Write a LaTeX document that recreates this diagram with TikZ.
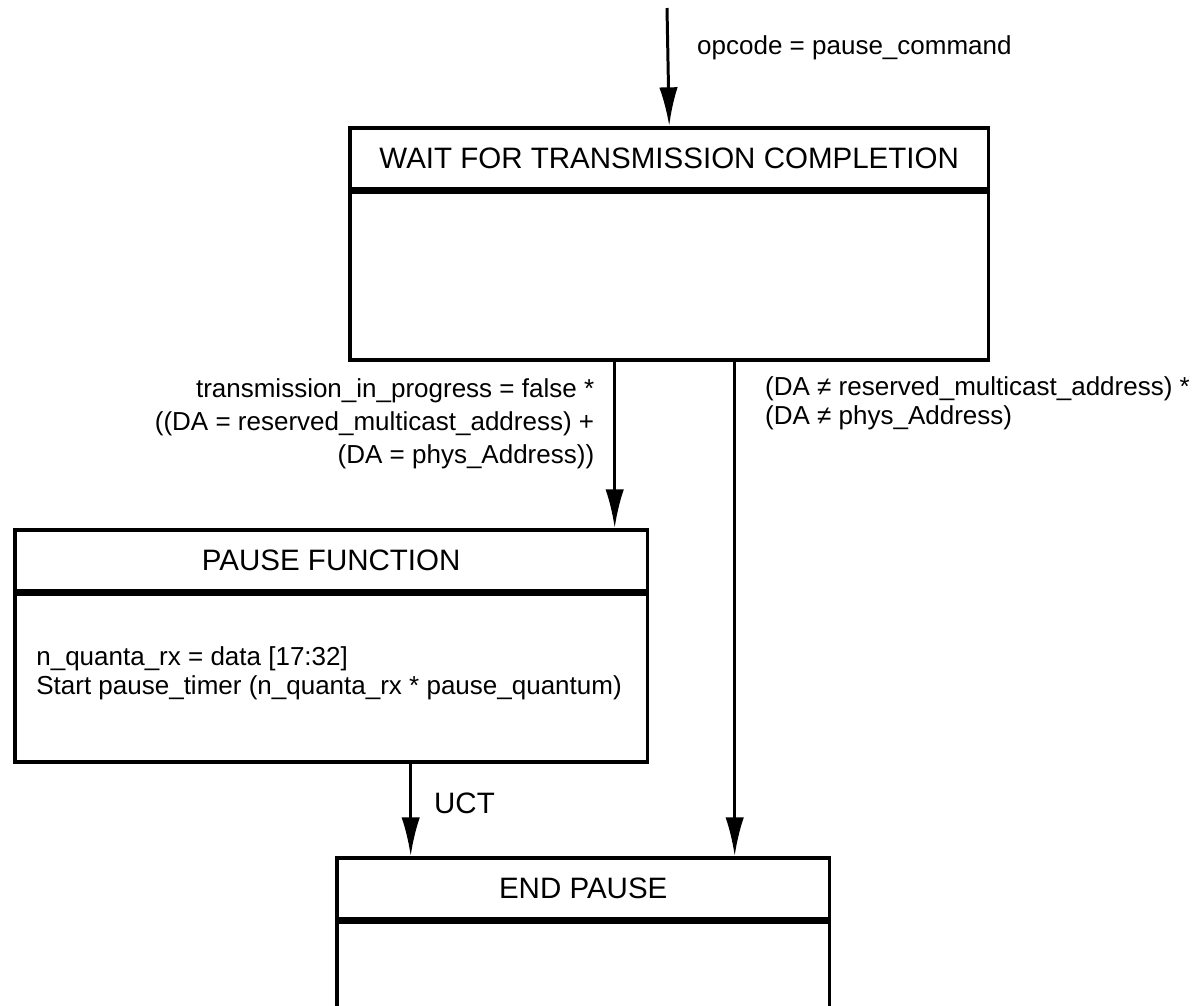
\documentclass[tikz,border=0pt]{standalone}
\usepackage{fontspec}
\setmainfont{Liberation Sans}
\usetikzlibrary{arrows.meta,positioning,calc}
\tikzset{% styles for the state boxes (title part and body part)
   statehd/.style={draw, line width=2pt, anchor=north west, inner sep=0mm,
                   minimum height=1.22cm, font=\fontsize{16.8}{20}\selectfont},
   statebody/.style={draw, line width=2pt, anchor=north, inner sep=0mm},
   % and the transitions with their conditions
   flow/.style={line width=1.7pt, -{Latex[length=22pt,width=10.5pt]}},
   guardlbl/.style={inner sep=0mm, font=\fontsize{14.8}{18.8}\selectfont}
}

\begin{document}
\begin{tikzpicture}[x=0.02cm, y=-0.02cm]
     \useasboundingbox (0,0) rectangle (1200,1005);
     \foreach \nm/\x/\y/\w/\bh/\title in {wait/348/126/12.78/3.36/{WAIT FOR TRANSMISSION COMPLETION},
                                        pause/13/528/12.66/3.36/{PAUSE FUNCTION},
                                        end/335/856/9.86/2.3/{END PAUSE}} {
         \node[statehd, minimum width=\w cm] (\nm hd) at (\x,\y) {\title};
         \node[statebody, minimum width=\w cm, minimum height=\bh cm] (\nm body) at (\nm hd.south) {};
     }
     \node[guardlbl, anchor=west, align=left, font=\fontsize{14.8}{17}\selectfont] (pausetxt)
          at ([xshift=0.46cm, yshift=0.1cm]pausebody.west)
          {n\_quanta\_rx = data [17:32]\\Start pause\_timer (n\_quanta\_rx * pause\_quantum)};

     \coordinate (entry) at (667,8);
     \coordinate (forkL) at ($(waitbody.south)+(-54.5,0)$);
     \coordinate (forkR) at ($(waitbody.south)+(65.5,0)$);
     \coordinate (uctpt) at ($(pausebody.south)+(79.5,0)$);

     \draw[flow] (entry) -- (waithd.north)
          node[guardlbl, pos=0.34, right=0.56cm] (opcodelbl) {opcode = pause\_command};
     \draw[flow] (forkL) -- (forkL |- pausehd.north)
          node[guardlbl, pos=0.37, left=0.38cm, align=right] (pauselbl)
          {transmission\_in\_progress = false *\\((DA = reserved\_multicast\_address) +\\(DA = phys\_Address))};
     \draw[flow] (forkR) -- (forkR |- endhd.north)
          node[guardlbl, pos=0.084, right=0.58cm, align=left, font=\fontsize{14.8}{16.5}\selectfont] (endlbl)
          {(DA ≠ reserved\_multicast\_address) *\\(DA ≠ phys\_Address)};
     \draw[flow] (uctpt) -- (uctpt |- endhd.north)
          node[guardlbl, pos=0.43, right=0.44cm, font=\fontsize{16.8}{20}\selectfont] (uctlbl) {UCT};
\end{tikzpicture}
\end{document}
